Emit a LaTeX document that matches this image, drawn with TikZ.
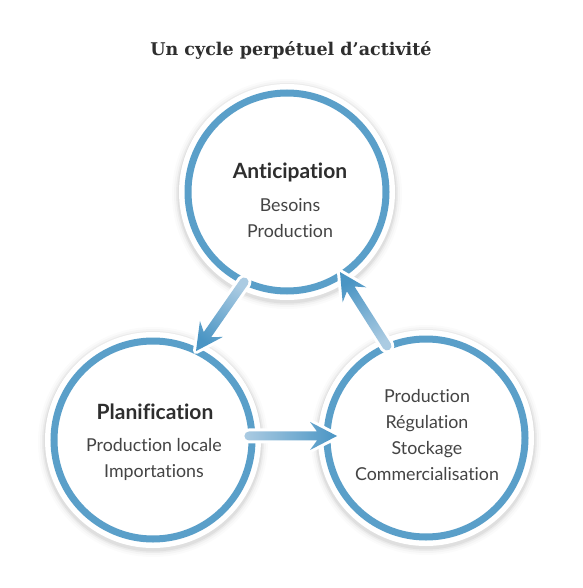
\documentclass[tikz,border=0pt]{standalone}
\usepackage{fontspec}
\setmainfont{Lato}[Ligatures=NoCommon]
\newfontfamily\titlefont{DejaVu Serif}
\usetikzlibrary{calc}
\definecolor{ring}{HTML}{5A9FC9}
\definecolor{arrowlight}{HTML}{ABCBE2}
\definecolor{arrowdark}{HTML}{4A95C4}
\definecolor{txt}{HTML}{2E2E2E}
\definecolor{bodytxt}{HTML}{444444}

\newcommand{\cyclearrow}[3]{% #1 tail, #2 tip, #3 shading angle
  \coordinate (aN) at ($(#2)!20pt!(#1)$);
  \coordinate (aB) at ($(#2)!27pt!(#1)$);
  \coordinate (aS1) at ($(#1)!4.5pt!90:(#2)$);
  \coordinate (aS2) at ($(#1)!4.5pt!-90:(#2)$);
  \coordinate (aN1) at ($(aN)!4.5pt!90:(#2)$);
  \coordinate (aN2) at ($(aN)!4.5pt!-90:(#2)$);
  \coordinate (aB1) at ($(aB)!14pt!90:(#2)$);
  \coordinate (aB2) at ($(aB)!14pt!-90:(#2)$);
  \draw[white, line width=6pt, line join=round]
    let \p1=($(#2)-(#1)$), \n1={atan2(\y1,\x1)} in
    (aS1) -- (aN1) -- (aB1) -- (#2) -- (aB2) -- (aN2) -- (aS2)
    arc[start angle=\n1-90, end angle=\n1-270, radius=4.5pt] -- cycle;
  \shade[top color=arrowdark, bottom color=arrowlight, shading angle=#3]
    let \p1=($(#2)-(#1)$), \n1={atan2(\y1,\x1)} in
    (aS1) -- (aN1) -- (aB1) -- (#2) -- (aB2) -- (aN2) -- (aS2)
    arc[start angle=\n1-90, end angle=\n1-270, radius=4.5pt] -- cycle;
}

\begin{document}
\begin{tikzpicture}[x=1pt,y=1pt,
  ringnode/.style={circle, minimum size=198pt, inner sep=0pt, outer sep=0pt,
    draw=ring, line width=7pt, fill=white},
  heading/.style={font=\bfseries\fontsize{21}{24}\selectfont, text=txt},
  body/.style={font=\fontsize{17.8}{26}\selectfont, text=bodytxt, align=center},
  titlestyle/.style={font=\titlefont\bfseries\fontsize{17.5}{20}\selectfont, text=txt}
]
\useasboundingbox (0,0) rectangle (582,-588);
\fill[white] (0,0) rectangle (582,-588);

% soft shadows and white halos
\foreach \cx/\cy in {287/-192, 153/-440, 426/-438} {
  \foreach \r/\o in {115/0.015, 113/0.025, 111/0.04, 109.5/0.05} {
    \fill[black, opacity=\o] (\cx,\cy-2) circle (\r);
  }
  \fill[white] (\cx,\cy) circle (108);
}

\node[ringnode] (top) at (287,-192) {};
\node[ringnode] (left) at (153,-440) {};
\node[ringnode] (right) at (426,-438) {};

\coordinate (a1s) at ($(top.center)+(244.5:99.7)$);
\coordinate (a1e) at ($(left.center)+(64.2:98.8)$);
\coordinate (a2s) at ($(left.center)+(2.4:96)$);
\coordinate (a2e) at ($(right.center)+(178.7:89)$);
\coordinate (a3s) at ($(right.center)+(113:100)$);
\coordinate (a3e) at ($(top.center)+(303.5:96)$);

\cyclearrow{a1s}{a1e}{145.2}
\cyclearrow{a2s}{a2e}{-90}
\cyclearrow{a3s}{a3e}{32.4}

\node[titlestyle] (title) at (291,-50) {Un cycle perpétuel d’activité};

\node[heading] (h1) at (290,-172) {Anticipation};
\node[body] (b1) at (290,-218) {Besoins\\Production};

\node[heading] (h2) at (155,-412) {Planification};
\node[body] (b2) at (154,-459) {Production locale\\Importations};

\node[body] (b3) at (427,-435) {Production\\Régulation\\Stockage\\Commercialisation};
\end{tikzpicture}
\end{document}
